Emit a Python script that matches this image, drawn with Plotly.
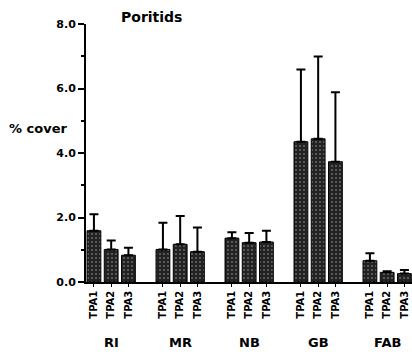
import plotly.graph_objects as go

groups = ["RI", "MR", "NB", "GB", "FAB"]
series = ["TPA1", "TPA2", "TPA3"]
# mean % cover per group, per series
values = [
    [1.59, 1.01, 0.83],
    [1.01, 1.17, 0.94],
    [1.36, 1.22, 1.24],
    [4.35, 4.44, 3.73],
    [0.66, 0.30, 0.26],
]
# upper error (SD) per group, per series
errors = [
    [0.51, 0.28, 0.23],
    [0.83, 0.88, 0.75],
    [0.18, 0.30, 0.35],
    [2.24, 2.55, 2.15],
    [0.23, 0.03, 0.11],
]
y_ticks = [0, 2, 4, 6, 8]

xs, ys, es, labels = [], [], [], []
for gi, g in enumerate(groups):
    for si, s in enumerate(series):
        xs.append(gi * 4 + si)
        ys.append(values[gi][si])
        es.append(errors[gi][si])
        labels.append(s)

fig = go.Figure()
fig.add_trace(go.Bar(
    x=xs, y=ys, width=0.8,
    marker=dict(color="#222222", line=dict(color="black", width=1),
                pattern=dict(shape=".", fgcolor="#a8a8a8", bgcolor="#222222", size=4, solidity=0.22)),
    error_y=dict(type="data", array=es, arrayminus=[0] * len(es), symmetric=False,
                 color="black", thickness=2, width=4.5),
))

font_b = "DejaVu Sans"
fig.update_layout(
    width=412, height=362,
    margin=dict(l=86, r=0, t=24, b=80),
    plot_bgcolor="white", paper_bgcolor="white",
    showlegend=False,
    font=dict(family=font_b, color="black"),
    xaxis=dict(range=[-0.46, 18.44], tickvals=xs, ticktext=labels, tickangle=-90,
               showline=True, linecolor="black", linewidth=1.5, ticks="outside", ticklen=3,
               tickcolor="black", showgrid=False, zeroline=False,
               tickfont=dict(family=font_b, size=10, color="black", weight="bold")),
    yaxis=dict(range=[0, 8], tickvals=y_ticks, tickformat=".1f",
               showline=True, linecolor="black", linewidth=2, ticks="outside", ticklen=6,
               tickwidth=1.5, tickcolor="black", showgrid=False, zeroline=False,
               minor=dict(dtick=1, ticks="outside", ticklen=3, tickcolor="black", tickwidth=1.5),
               tickfont=dict(family=font_b, size=11, color="black", weight="bold")),
)

for gi, g in enumerate(groups):
    fig.add_annotation(x=gi * 4 + 1, y=-0.235, xref="x", yref="paper", text=g, showarrow=False,
                       font=dict(family=font_b, size=13, weight="bold"), yanchor="middle")

fig.add_annotation(x=-0.147, y=4.76, xref="paper", yref="y", text="% cover", showarrow=False,
                   font=dict(family=font_b, size=13, weight="bold"), xanchor="center")
fig.add_annotation(x=0.2, y=1.027, xref="paper", yref="paper", text="Poritids", showarrow=False,
                   font=dict(family=font_b, size=14, weight="bold"), xanchor="center", yanchor="middle")

fig.write_html("out.html")
